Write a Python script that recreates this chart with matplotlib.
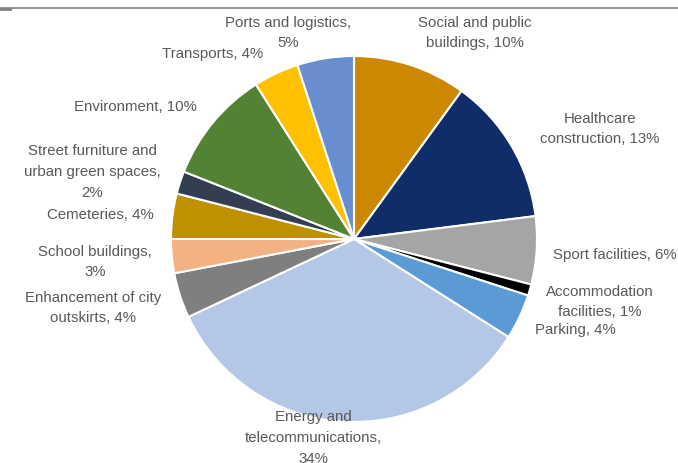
import matplotlib
matplotlib.use("Agg")
import matplotlib.pyplot as plt
from matplotlib.lines import Line2D

# Shares of investment by sector (%), clockwise from 12 o'clock
sectors = [
    "Social and public\nbuildings, 10%",
    "Healthcare\nconstruction, 13%",
    "Sport facilities, 6%",
    "Accommodation\nfacilities, 1%",
    "Parking, 4%",
    "Energy and\ntelecommunications,\n34%",
    "Enhancement of city\noutskirts, 4%",
    "School buildings,\n3%",
    "Cemeteries, 4%",
    "Street furniture and\nurban green spaces,\n2%",
    "Environment, 10%",
    "Transports, 4%",
    "Ports and logistics,\n5%",
]
shares = [10, 13, 6, 1, 4, 34, 4, 3, 4, 2, 10, 4, 5]
colors = [
    "#CC8800", "#102D6A", "#A5A5A5", "#000000", "#5B9BD5", "#B4C7E7",
    "#7F7F7F", "#F4B183", "#BF9000", "#333F50", "#548235", "#FFC000", "#698ED0",
]

# label anchor points (pixel space, y measured from top)
label_pos = [
    (475, 33), (600, 129), (615, 255), (600, 302), (575, 330), (313, 438),
    (93, 308), (95, 262), (100, 215), (92, 172), (135, 107), (213, 54), (288, 33),
]

W, H = 678, 464
plt.rcParams["font.family"] = ["Liberation Sans", "DejaVu Sans"]

fig = plt.figure(figsize=(W / 100, H / 100), dpi=100)
ax = fig.add_axes([0, 0, 1, 1])

ax.pie(shares, colors=colors, startangle=90, counterclock=False,
       center=(354, H - 240), radius=183, frame=True,
       wedgeprops=dict(edgecolor="white", linewidth=1.5))
ax.set_xlim(0, W)
ax.set_ylim(0, H)
ax.axis("off")

for text, (x, y) in zip(sectors, label_pos):
    ax.text(x, H - y, text, ha="center", va="center", fontsize=10.8,
            color="#595959", linespacing=1.6)

# thin rule across the top
fig.add_artist(Line2D([0, 1], [1 - 9 / H, 1 - 9 / H], color="#808080", lw=1.2))
fig.add_artist(Line2D([0, 10 / W], [1 - 10 / H, 1 - 10 / H], color="#808080", lw=2))

fig.savefig("out.png", dpi=100)
